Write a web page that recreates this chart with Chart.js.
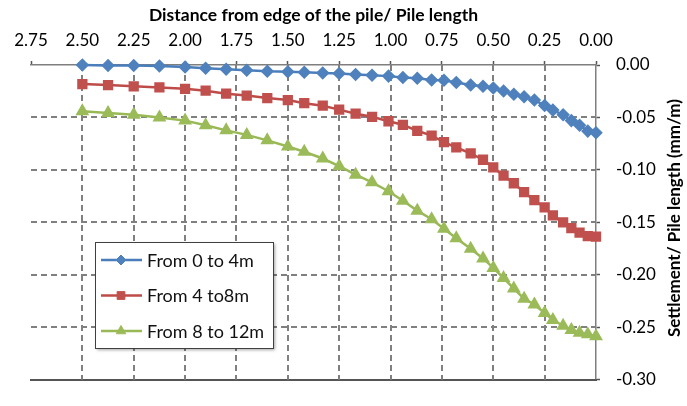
<!DOCTYPE html>
<html>
<head>
<meta charset="utf-8">
<script src="https://cdn.jsdelivr.net/npm/chart.js@4.4.0/dist/chart.umd.min.js"></script>
<style>
    html, body { margin: 0; padding: 0; background: #fff; }
    #wrap { width: 687px; height: 406px; position: relative; }
</style>
</head>
<body>
<div id="wrap"><canvas id="chartSettle"></canvas></div>
<script>
// distance from edge of the pile / pile length (same for all series)
let distances = [2.5, 2.375, 2.25, 2.125, 2.0, 1.9, 1.8, 1.7, 1.6, 1.5, 1.42, 1.33, 1.25, 1.17, 1.09, 1.01,
    0.94, 0.87, 0.80, 0.74, 0.68, 0.61, 0.55, 0.50, 0.45, 0.40, 0.35, 0.30, 0.25, 0.21, 0.16, 0.12, 0.08, 0.04, 0];

// settlement / pile length (mm/m)
let from0to4 = [0, -0.0005, -0.0005, -0.001, -0.002, -0.003, -0.004, -0.005, -0.006, -0.0065, -0.007, -0.0076,
    -0.008, -0.009, -0.0097, -0.0106, -0.012, -0.0127, -0.0143, -0.0146, -0.0166, -0.019, -0.0203, -0.022,
    -0.0248, -0.0279, -0.0303, -0.0334, -0.0385, -0.043, -0.0475, -0.053, -0.0575, -0.063, -0.0645];
let from4to8 = [-0.0182, -0.0191, -0.0203, -0.0214, -0.0227, -0.0245, -0.0273, -0.0291, -0.0315, -0.0334, -0.0364,
    -0.0388, -0.0425, -0.0464, -0.0494, -0.0536, -0.057, -0.0627, -0.0673, -0.0734, -0.0786, -0.0843, -0.0903,
    -0.0975, -0.1055, -0.1127, -0.1212, -0.1288, -0.1357, -0.1434, -0.15, -0.1555, -0.1597, -0.163, -0.1636];
let from8to12 = [-0.0441, -0.0457, -0.0473, -0.05, -0.053, -0.0575, -0.0623, -0.0666, -0.0718, -0.0777, -0.0827,
    -0.0891, -0.0964, -0.1045, -0.1118, -0.1203, -0.1294, -0.1388, -0.147, -0.1561, -0.1652, -0.1752, -0.1843,
    -0.1934, -0.203, -0.213, -0.2227, -0.2282, -0.2364, -0.243, -0.2485, -0.2525, -0.2552, -0.2566, -0.2585];

let seriesNames = ['From 0 to 4m', 'From 4 to8m', 'From 8 to 12m'];
let xTitle = 'Distance from edge of the pile/ Pile length';
let yTitle = 'Settlement/ Pile length (mm/m)';
let xMax = 2.75, xStep = 0.25;
let yMin = -0.30, yStep = 0.05;

function toPoints(values) {
    return distances.map((d, i) => ({ x: d, y: values[i] }));
}

const baseFont = 'Lato';

function near(a, b) { return Math.abs(a - b) < 1e-6; }

// dashed grid, drawn from the scale ticks
const dashedGrid = {
    id: 'dashedGrid',
    beforeDatasetsDraw(chart) {
        const { ctx, chartArea: a, scales } = chart;
        ctx.save();
        ctx.strokeStyle = '#808080';
        ctx.lineWidth = 2;
        ctx.setLineDash([6, 4]);
        scales.x.ticks.forEach(t => {
            if (near(t.value, 0) || near(t.value, xMax)) return;
            const px = Math.round(scales.x.getPixelForValue(t.value));
            ctx.beginPath(); ctx.moveTo(px, a.top); ctx.lineTo(px, a.bottom); ctx.stroke();
        });
        scales.y.ticks.forEach(t => {
            if (near(t.value, 0) || near(t.value, yMin)) return;
            const py = Math.round(scales.y.getPixelForValue(t.value));
            ctx.beginPath(); ctx.moveTo(a.left, py); ctx.lineTo(a.right, py); ctx.stroke();
        });
        ctx.restore();
    }
};

// legend box drawn inside the plot, like the excel one
const legendInside = {
    id: 'legendInside',
    afterDraw(chart) {
        const ctx = chart.ctx, area = chart.chartArea;
        const left = area.left + 64, top = area.top + 177, w = 178, h = 106;
        ctx.save();
        ctx.shadowColor = 'rgba(0,0,0,0.35)';
        ctx.shadowOffsetX = 2; ctx.shadowOffsetY = 2; ctx.shadowBlur = 3;
        ctx.fillStyle = '#fff';
        ctx.fillRect(left, top, w, h);
        ctx.shadowColor = 'rgba(0,0,0,0)';
        ctx.strokeStyle = '#404040'; ctx.lineWidth = 1;
        ctx.strokeRect(left + 0.5, top + 0.5, w, h);
        chart.data.datasets.forEach((ds, i) => {
            const y = top + 18 + i * 35.5;
            ctx.strokeStyle = ds.borderColor; ctx.lineWidth = ds.borderWidth;
            ctx.beginPath(); ctx.moveTo(left + 6, y); ctx.lineTo(left + 47, y); ctx.stroke();
            ctx.fillStyle = ds.pointBackgroundColor; ctx.strokeStyle = ds.pointBorderColor; ctx.lineWidth = 1;
            Chart.helpers.drawPoint(ctx, { pointStyle: ds.pointStyle, radius: ds.pointRadius, borderWidth: 1, rotation: 0 }, left + 26, y);
            ctx.fillStyle = '#111';
            ctx.font = '18px ' + baseFont;
            ctx.textBaseline = 'middle'; ctx.textAlign = 'left';
            ctx.fillText(ds.label, left + 52, y + 1);
        });
        ctx.restore();
    }
};

// right axis title reads bottom to top (chart.js would rotate it the other way)
const rightTitle = {
    id: 'rightTitle',
    afterDraw(chart) {
        const ctx = chart.ctx, a = chart.chartArea;
        ctx.save();
        ctx.translate(a.right + 79, a.top + 153);
        ctx.rotate(-Math.PI / 2);
        ctx.font = 'bold 17px ' + baseFont;
        ctx.textAlign = 'center'; ctx.textBaseline = 'middle'; ctx.fillStyle = '#000';
        ctx.fillText(yTitle, 0, 0);
        ctx.restore();
    }
};

let ctxSettle = document.getElementById('chartSettle');

let settleChart = new Chart(ctxSettle, {
    type: 'scatter',
    data: {
        datasets: [{
            label: seriesNames[0],
            data: toPoints(from0to4),
            showLine: true,
            borderColor: '#4A7EBB', borderWidth: 2.5,
            pointStyle: 'rectRot', pointRadius: 5,
            pointBackgroundColor: '#4F81BD', pointBorderColor: '#4F81BD',
            clip: false
        }, {
            label: seriesNames[1],
            data: toPoints(from4to8),
            showLine: true,
            borderColor: '#BE4B48', borderWidth: 2.5,
            pointStyle: 'rect', pointRadius: 5.5,
            pointBackgroundColor: '#C0504D', pointBorderColor: '#C0504D',
            clip: false
        }, {
            label: seriesNames[2],
            data: toPoints(from8to12),
            showLine: true,
            borderColor: '#98B954', borderWidth: 2.5,
            pointStyle: 'triangle', pointRadius: 5.5,
            pointBackgroundColor: '#9BBB59', pointBorderColor: '#9BBB59',
            clip: false
        }]
    },
    options: {
        responsive: true,
        maintainAspectRatio: false,
        animation: false,
        devicePixelRatio: 1,
        layout: { padding: { left: 31, right: 0, top: 0, bottom: 11 } },
        plugins: {
            legend: { display: false },
            tooltip: { enabled: false }
        },
        scales: {
            x: {
                type: 'linear', position: 'top', reverse: true,
                min: 0, max: xMax,
                ticks: {
                    stepSize: xStep, autoSkip: false, maxRotation: 0,
                    callback: v => v.toFixed(2),
                    font: { family: baseFont, size: 17 }, color: '#000', padding: 10
                },
                grid: {
                    drawOnChartArea: false,
                    tickLength: 4, tickColor: '#555', tickWidth: 1.5
                },
                border: { display: true, color: '#7f7f7f', width: 1.5 },
                title: {
                    display: true, text: xTitle, color: '#000',
                    font: { family: baseFont, size: 17.5, weight: 'bold' },
                    padding: { top: 5, bottom: 0 }
                },
                afterFit: s => { s.height = 65; }
            },
            y: {
                position: 'right',
                min: yMin, max: 0,
                ticks: {
                    stepSize: yStep,
                    callback: v => v.toFixed(2),
                    font: { family: baseFont, size: 17 }, color: '#000', padding: 16
                },
                grid: {
                    drawOnChartArea: false,
                    tickLength: 4, tickColor: '#555', tickWidth: 1.5
                },
                border: { display: true, color: '#7f7f7f', width: 1.5 },
                afterFit: s => { s.width = 91; }
            },
            x2: {
                type: 'linear', position: 'bottom',
                grid: { display: false },
                ticks: { display: false },
                border: { display: true, color: '#555', width: 2 },
                afterFit: s => { s.height = 0; }
            }
        }
    },
    plugins: [dashedGrid, legendInside, rightTitle]
});
</script>
</body>
</html>
